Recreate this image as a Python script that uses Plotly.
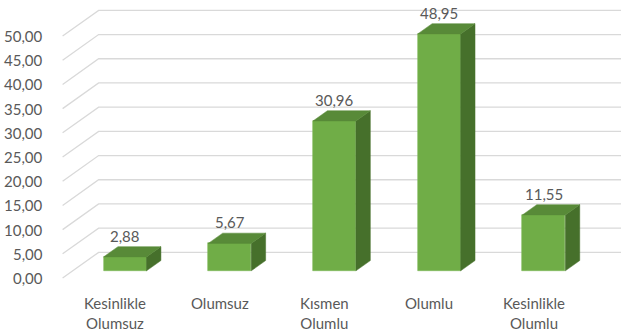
import plotly.graph_objects as go

# Survey response categories and their percentages
categories = ["Kesinlikle<br>Olumsuz", "Olumsuz", "Kısmen<br>Olumlu", "Olumlu", "Kesinlikle<br>Olumlu"]
values = [2.88, 5.67, 30.96, 48.95, 11.55]
tick_values = [0, 5, 10, 15, 20, 25, 30, 35, 40, 45, 50]

# Oblique projection of the 3D box: depth offset in axis units
DX = 0.344   # horizontal shift from front plane to back wall (category units)
DY = 5.3     # vertical shift from front plane to back wall (value units)
D_FRONT = 0.28   # depth of the bar front faces
D_BACK = 0.68    # depth of the bar back faces
HALF_W = 0.205   # half width of a bar (category units)

FRONT = "#70AD47"
TOP = "#588A38"
SIDE = "#46702B"
GRID = "#D9D9D9"
TEXT = "#595959"
FONT = "Lato"

n = len(values)
x_left, x_right = -0.5, n - 0.5

fig = go.Figure()

# Gridlines behind the bars: along the left side wall, then across the back wall
shapes = []
for v in tick_values:
    path = (f"M {x_left},{v} L {x_left + DX},{v + DY} L {x_right + DX},{v + DY}")
    shapes.append(dict(type="path", path=path, xref="x", yref="y", layer="below",
                       line=dict(color=GRID, width=1.3)))

# Front faces of the bars
fig.add_trace(go.Bar(
    x=[i + D_FRONT * DX for i in range(n)],
    y=values,
    base=[D_FRONT * DY] * n,
    width=2 * HALF_W,
    marker=dict(color=FRONT, line=dict(color="#7DB858", width=0.6)),
    hoverinfo="skip", showlegend=False))

# Right side and top faces of each bar
for i, v in enumerate(values):
    cx = i + D_FRONT * DX
    xr = cx + HALF_W
    xl = cx - HALF_W
    b0 = D_FRONT * DY
    ddx = (D_BACK - D_FRONT) * DX
    ddy = (D_BACK - D_FRONT) * DY
    # side face
    fig.add_trace(go.Scatter(
        x=[xr, xr + ddx, xr + ddx, xr, xr],
        y=[b0, b0 + ddy, b0 + ddy + v, b0 + v, b0],
        fill="toself", fillcolor=SIDE, mode="lines",
        line=dict(color=SIDE, width=0.5), hoverinfo="skip", showlegend=False))
    # top face
    fig.add_trace(go.Scatter(
        x=[xl, xr, xr + ddx, xl + ddx, xl],
        y=[b0 + v, b0 + v, b0 + v + ddy, b0 + v + ddy, b0 + v],
        fill="toself", fillcolor=TOP, mode="lines",
        line=dict(color=TOP, width=0.5), hoverinfo="skip", showlegend=False))

annotations = []
# Value labels above the bars
for i, v in enumerate(values):
    annotations.append(dict(
        x=i + D_FRONT * DX, y=v + D_BACK * DY, xref="x", yref="y",
        text=f"{v:.2f}".replace(".", ","), showarrow=False,
        xanchor="center", yanchor="bottom", yshift=0,
        font=dict(family=FONT, size=15, color=TEXT)))

# Value axis labels
for v in tick_values:
    annotations.append(dict(
        x=-0.67, y=v, xref="x", yref="y",
        text=f"{v:.2f}".replace(".", ","), showarrow=False,
        xanchor="right", yanchor="middle",
        font=dict(family=FONT, size=15, color=TEXT)))

# Category labels
for i, c in enumerate(categories):
    annotations.append(dict(
        x=i, y=-2.9, xref="x", yref="y",
        text=c, showarrow=False, xanchor="center", yanchor="top",
        font=dict(family=FONT, size=15, color=TEXT)))

fig.update_layout(
    width=621, height=333,
    margin=dict(l=0, r=0, t=0, b=0),
    paper_bgcolor="white", plot_bgcolor="white",
    xaxis=dict(range=[-1.098, 4.833], visible=False, fixedrange=True),
    yaxis=dict(range=[-11.36, 57.44], visible=False, fixedrange=True),
    annotations=annotations,
    shapes=shapes,
    bargap=0,
)

fig.write_html("out.html")
